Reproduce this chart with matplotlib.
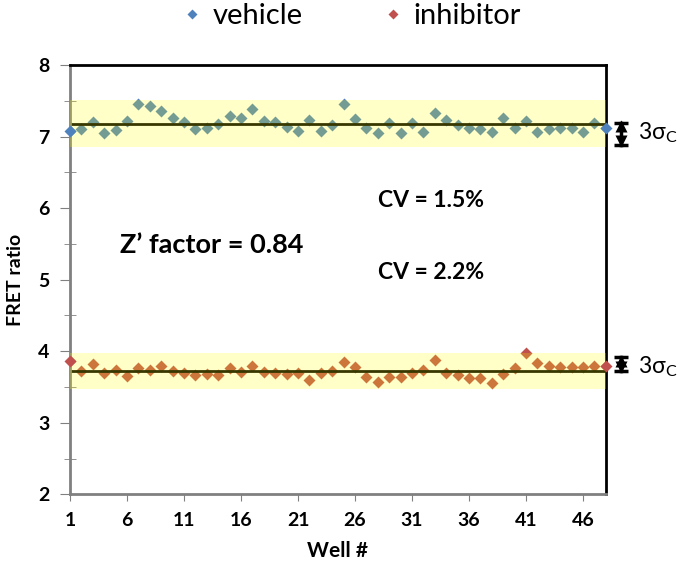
import numpy as np
import matplotlib
matplotlib.use("Agg")
import matplotlib.pyplot as plt
from matplotlib.lines import Line2D

plt.rcParams['font.family'] = ['Lato', 'DejaVu Sans']

wells = np.arange(1, 49)
vehicle = [7.08, 7.10, 7.21, 7.05, 7.09, 7.22, 7.46, 7.43, 7.35, 7.26,
           7.21, 7.10, 7.12, 7.18, 7.29, 7.26, 7.39, 7.22, 7.20, 7.14,
           7.08, 7.23, 7.08, 7.16, 7.46, 7.25, 7.12, 7.05, 7.19, 7.05,
           7.19, 7.07, 7.33, 7.23, 7.16, 7.12, 7.10, 7.06, 7.26, 7.12,
           7.22, 7.07, 7.10, 7.12, 7.12, 7.07, 7.19, 7.12]
inhibitor = [3.86, 3.73, 3.82, 3.70, 3.74, 3.65, 3.76, 3.74, 3.80, 3.72,
             3.70, 3.67, 3.68, 3.67, 3.77, 3.71, 3.80, 3.71, 3.70, 3.68,
             3.70, 3.60, 3.69, 3.73, 3.85, 3.78, 3.64, 3.57, 3.64, 3.64,
             3.69, 3.74, 3.88, 3.70, 3.67, 3.63, 3.62, 3.55, 3.68, 3.76,
             3.98, 3.84, 3.80, 3.78, 3.78, 3.78, 3.80, 3.80]
cv_labels = ['CV = 1.5%', 'CV = 2.2%']
z_factor = 0.84

blue = '#4F81BD'
red = '#C0504D'

fig = plt.figure(figsize=(6.8, 5.65), dpi=100)
ax = fig.add_axes([0.103, 0.125, 0.788, 0.76])

# (series, colour, arrow top/bottom offset from mean, label offset)
series = [(vehicle, blue, (0.01, -0.30), -0.13),
          (inhibitor, red, (0.19, 0.0), 0.06)]

ax_x = 49.3
for vals, col, (a_top, a_bot), t_off in series:
    vals = np.array(vals)
    m = vals.mean()
    band = 3 * vals.std()
    ax.plot(wells, vals, 'D', color=col, ms=6.5, mec='none', zorder=2)
    ax.plot([1, 48], [m, m], color='black', lw=2, zorder=2)
    # translucent yellow band over the points (tints them like the original)
    ax.fill_between([1, 48], m - band, m + band, color='yellow', alpha=0.22,
                    lw=0, zorder=3)
    ax.plot(wells[[0, -1]], vals[[0, -1]], 'D', color=col, ms=6.5, mec='none',
            zorder=4, clip_on=False)
    # 3 sigma double arrow on the right
    top, bot = m + a_top, m + a_bot
    ax.plot([ax_x, ax_x], [top, bot], color='black', lw=2.5, clip_on=False)
    ax.plot([ax_x, ax_x], [top, bot], ls='none', marker='_', ms=10, mew=2.5,
            color='black', clip_on=False)
    ax.plot(ax_x, top - 0.05, marker='^', ms=9, color='black', mec='none',
            clip_on=False)
    ax.plot(ax_x, bot + 0.05, marker='v', ms=9, color='black', mec='none',
            clip_on=False)
    ax.text(50.8, m + t_off, r'3σ$_\mathregular{C}$', fontsize=16.5,
            va='center', ha='left', clip_on=False)

ax.set_xlim(1, 48)
ax.set_ylim(2, 8)
ax.set_xticks(np.arange(1, 48, 5))
ax.set_yticks(np.arange(2, 9, 1))
ax.set_yticks(np.arange(2.5, 8, 1), minor=True)
ax.tick_params(axis='x', direction='out', length=5, color='#808080', pad=8,
               labelsize=14)
ax.tick_params(axis='y', which='major', direction='out', length=7,
               color='#808080', labelsize=14, pad=8)
ax.tick_params(axis='y', which='minor', direction='inout', length=8,
               color='#808080')
for lab in ax.get_xticklabels() + ax.get_yticklabels():
    lab.set_fontweight('bold')

for side in ['left', 'bottom']:
    ax.spines[side].set_color('#808080')
    ax.spines[side].set_linewidth(2)
for side in ['top', 'right']:
    ax.spines[side].set_color('black')
    ax.spines[side].set_linewidth(2)

ax.set_xlabel('Well #', fontsize=15, fontweight='bold', labelpad=8)
ax.set_ylabel('FRET ratio', fontsize=14, fontweight='bold', labelpad=10)

ax.text(32.7, 6.1, cv_labels[0], fontsize=16.5, fontweight='bold',
        ha='center', va='center')
ax.text(32.7, 5.1, cv_labels[1], fontsize=16.5, fontweight='bold',
        ha='center', va='center')
ax.text(13.4, 5.48, f'Z\u2019 factor = {z_factor}', fontsize=19.5,
        fontweight='bold', ha='center', va='center')

handles = [Line2D([], [], ls='none', marker='D', color=blue, ms=5, mec='none'),
           Line2D([], [], ls='none', marker='D', color=red, ms=5, mec='none')]
fig.legend(handles, ['vehicle', 'inhibitor'], loc='center',
           bbox_to_anchor=(0.513, 0.972), ncol=2, frameon=False, fontsize=21,
           handletextpad=0.2, columnspacing=2.6, handlelength=1)

fig.savefig('out.png', dpi=100)
